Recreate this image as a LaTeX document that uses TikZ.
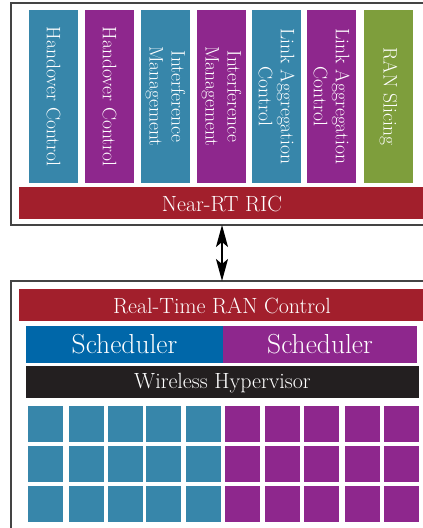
\documentclass[tikz,border=0pt]{standalone}
\usetikzlibrary{arrows.meta}
\definecolor{tealc}{HTML}{3786AA}
\definecolor{purpc}{HTML}{8E278D}
\definecolor{greenc}{HTML}{7E9E3C}
\definecolor{redc}{HTML}{A21F2C}
\definecolor{bluec}{HTML}{0067A9}
\definecolor{blackc}{HTML}{231F20}
\definecolor{framec}{HTML}{444444}
\begin{document}
\begin{tikzpicture}[x=1pt,y=-1pt,
  blk/.style={draw=none, inner sep=0pt, outer sep=0pt, anchor=north west},
  collbl/.style={text=white, font=\fontsize{19.5}{22}\selectfont, align=center, inner sep=0pt},
  lbl/.style={text=white, font=\fontsize{22}{26}\selectfont, inner sep=0pt},
  biglbl/.style={text=white, font=\fontsize{27.5}{32}\selectfont, inner sep=0pt},
  frame/.style={blk, draw=framec, line width=2pt},
  tile/.style={blk, minimum width=35, minimum height=36}]
\useasboundingbox (0,0) rectangle (423,528);
\clip (0,0) rectangle (423,528);

% outer frames of the two tiers
\node[frame, minimum width=422, minimum height=222] (topf) at (11,3) {};
\node[frame, minimum width=422, minimum height=280] (botf) at (11,281) {};

% xApp columns
\foreach \n/\x/\c/\t in {1/29/tealc/{Handover Control},
                         2/85/purpc/{Handover Control},
                         3/141/tealc/{Interference\\Management},
                         4/197/purpc/{Interference\\Management},
                         5/252/tealc/{Link Aggregation\\Control},
                         6/307/purpc/{Link Aggregation\\Control},
                         7/364/greenc/{RAN Slicing}}{
  \node[blk, fill=\c, minimum width=49, minimum height=173] (col\n) at (\x,10) {};
  \node[collbl, rotate=-90] (col\n t) at (col\n.center) {\t};
}

% RIC bar
\node[blk, fill=redc, minimum width=406, minimum height=32] (ric) at (19,187) {};
\node[lbl] (rict) at ([yshift=-1pt]ric.center) {Near-RT RIC};

% link between tiers
\draw[line width=1.6pt, {Stealth[length=22pt,width=12pt,inset=5pt]}-{Stealth[length=22pt,width=12pt,inset=5pt]}]
  (topf.south) -- (botf.north);

% lower tier
\node[blk, fill=redc, minimum width=406, minimum height=32] (rtc) at (19,289) {};
\node[lbl] (rtct) at ([yshift=-1pt]rtc.center) {Real-Time RAN Control};
\node[blk, fill=bluec, minimum width=197, minimum height=37] (sch1) at (26,326) {};
\node[biglbl] (sch1t) at (sch1.center) {Scheduler};
\node[blk, fill=purpc, minimum width=194, minimum height=37] (sch2) at (223,326) {};
\node[biglbl] (sch2t) at (sch2.center) {Scheduler};
\node[blk, fill=blackc, minimum width=393, minimum height=32] (hyp) at (26,366) {};
\node[lbl] (hypt) at ([yshift=-1pt]hyp.center) {Wireless Hypervisor};

% resource tiles
\foreach \x [count=\i] in {28,69,108,146,186}{
  \foreach \y [count=\j] in {406,446,486}{
    \node[tile, fill=tealc] (ta\i\j) at (\x,\y) {};
  }
}
\foreach \x [count=\i] in {225,265,304,345,384}{
  \foreach \y [count=\j] in {406,446,486}{
    \node[tile, fill=purpc] (tb\i\j) at (\x,\y) {};
  }
}
\end{tikzpicture}
\end{document}
